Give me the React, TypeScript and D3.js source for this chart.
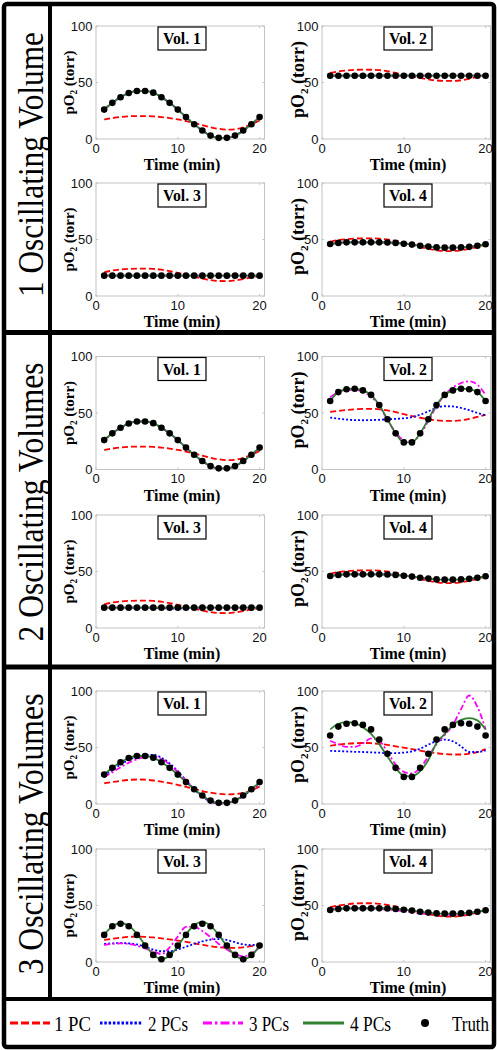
import React from "react";
import * as d3 from "d3";

// ---------- data ----------
const minutes = [1, 2, 3, 4, 5, 6, 7, 8, 9, 10, 11, 12, 13, 14, 15, 16, 17, 18, 19, 20];
const xTicks = [0, 10, 20];
const yTicks = [0, 50, 100];
const volTitles = ["Vol. 1", "Vol. 2", "Vol. 3", "Vol. 4"];
const sectionLabels = ["1 Oscillating Volume", "2 Oscillating Volumes", "3 Oscillating Volumes"];
const legendLabels = ["1 PC", "2 PCs", "3 PCs", "4 PCs", "Truth"];

// truth curves
const truthVol1 = [26, 32, 37, 40.7, 42.5, 42.5, 41, 37, 32, 26, 19.4, 13, 7.5, 3, 1, 1, 3, 7.5, 13, 19.4];
const truthVol2Flat = [56, 56, 56, 56, 56, 56, 56, 56, 56, 56, 56, 56, 56, 56, 56, 56, 56, 56, 56, 56];
const truthVol2Osc = [60.6, 68.5, 71, 71.5, 70, 66, 57, 44.5, 32, 24, 24, 32, 44.5, 57, 66, 70, 71.5, 71, 68.5, 60.6];
const truthVol3Flat = [18, 18, 18, 18, 18, 18, 18, 18, 18, 18, 18, 18, 18, 18, 18, 18, 18, 18, 18, 18];
const truthVol3Osc = [24, 31.6, 33.9, 31.6, 24, 14.5, 6.3, 2.5, 6.3, 14.5, 24, 31.6, 33.9, 31.6, 24, 14.5, 6.3, 2.5, 6.3, 14.5];
const truthVol4 = [46, 47, 47.5, 47.5, 47.5, 47.5, 47.5, 47.3, 47, 46.3, 45.5, 44.5, 43.7, 43, 42.8, 42.8, 43, 43.5, 44.5, 45.8];

// 1 PC reconstructions
const pc1Vol1 = [17.3, 18.5, 19.5, 20.1, 20.3, 20.3, 20, 19.4, 18.5, 17.3, 15.8, 14.2, 12.3, 10.4, 9, 8.3, 8.6, 10.2, 13, 16.4];
const pc1Vol2A = [58.5, 59.8, 60.6, 61.2, 61.4, 61.3, 61, 60, 58.5, 57, 55.5, 54, 52.8, 51.8, 51.4, 51.4, 52, 53.3, 55, 56.5];
const pc1Vol3A = [21, 22.5, 23.5, 24, 24.2, 24.2, 24, 23.3, 22, 20.5, 18.8, 17, 15.3, 14, 13.3, 13.2, 13.8, 15, 16.5, 17.5];
const pc1Vol4 = [48, 49.5, 50.3, 50.8, 51, 51, 50.7, 50, 48.8, 47.2, 45.5, 43.5, 41.8, 40.5, 39.8, 39.8, 40.5, 41.8, 43.5, 45.5];
const pc1Vol2B = [51, 51.8, 52.6, 53.2, 53.6, 53.7, 53.3, 52.3, 50.8, 49, 47.3, 45.8, 44.5, 43.5, 43, 43, 43.5, 44.8, 46.5, 48.5];
const pc1Vol1C = [18.3, 19.5, 20.5, 21.3, 21.7, 21.5, 20.8, 19.8, 18.5, 17, 15.2, 13.3, 11.5, 10, 9, 8.5, 8.7, 9.8, 12, 15.5];
const pc1Vol2C = [51.5, 52.5, 53.3, 53.8, 54, 53.8, 53.2, 52.3, 51, 49.8, 48.5, 47.2, 46, 45, 44.2, 43.8, 43.8, 44.5, 46, 48.5];
const pc1Vol3C = [19.5, 20.5, 21.5, 22.2, 22.5, 22.3, 21.8, 21, 20, 19, 17.8, 16.5, 15.2, 14, 13, 12.5, 12.5, 13, 14, 15.5];
const pc1Vol4C = [48.5, 50, 51, 51.8, 52, 52, 51.5, 50.5, 49, 47.3, 45.5, 43.8, 42.3, 41, 40.3, 40.2, 40.8, 42, 43.8, 46];

// 2 PCs reconstructions
const pc2Vol2B = [46, 45, 44.2, 43.7, 43.6, 43.7, 44, 44.4, 44.8, 45.3, 46.3, 48.5, 51.5, 54.5, 56, 55.8, 54.5, 52.5, 50, 48];
const pc2Vol3B = [18, 18, 18, 18, 18, 18, 17.8, 17.5, 17.2, 17.2, 17.5, 17.8, 18, 18, 18, 18, 18, 18, 18, 18];
const pc2Vol1C = [25, 30, 35, 39, 42, 43.5, 43.5, 41, 36, 29, 21, 13, 6.5, 2, 0.5, 1, 3, 7, 12.5, 18];
const pc2Vol2C = [47, 46.8, 46.5, 46.2, 46, 45.7, 45.4, 45, 45, 45.5, 46.5, 49, 52.5, 55.5, 57, 55.5, 51, 46, 46, 47.5];
const pc2Vol3C = [16, 16.5, 16.8, 16.5, 15.5, 13.5, 11, 9.5, 9.5, 11, 13.5, 16, 18.3, 19.8, 20.3, 19.5, 17.5, 15.5, 15, 16];

// 3 PCs reconstructions
const pc3Vol2B = [64, 68.5, 70.5, 70.5, 69, 64.5, 56, 44, 33, 26, 25, 31, 43, 56, 66, 72.5, 76.5, 78, 75, 66];
const pc3Vol1C = [24, 28, 32.5, 36.5, 39.5, 41.5, 42, 40, 35, 28.5, 21, 13.5, 7, 2.5, 0.5, 1, 3.5, 7.5, 13, 18];
const pc3Vol2C = [56, 53, 50.5, 50.5, 53.5, 58, 56, 46, 35, 28.5, 27, 32, 42, 53, 61, 70, 84, 96, 86, 66];
const pc3Vol3C = [15, 16, 16.5, 16, 14.5, 12, 9.5, 7, 13, 22.5, 31, 31, 27.5, 22, 16, 11, 7, 5, 7.5, 13];
const pc3Vol4C = [47, 47.3, 47.5, 47.5, 47.5, 47.2, 47, 46.5, 45.8, 45, 44, 43.2, 42.5, 42, 41.8, 42, 42.5, 43.3, 44.5, 46];

// 4 PCs reconstructions
const pc4Vol2C = [66, 71, 72.5, 71.5, 68, 62, 53, 42, 32, 25, 24.5, 29, 39, 54, 62, 70, 74.5, 76, 74, 66];
const pc4Vol3C = [24.5, 31.5, 34.5, 32, 25, 15, 6.5, 2.5, 5.5, 14, 24.5, 32.5, 35.5, 32, 24, 14, 6, 2.5, 5.5, 14.5];

type Series = { pc1: number[]; pc2: number[]; pc3: number[]; pc4: number[]; truth: number[] };

const sections: Series[][] = [
  [
    { pc1: pc1Vol1, pc2: truthVol1, pc3: truthVol1, pc4: truthVol1, truth: truthVol1 },
    { pc1: pc1Vol2A, pc2: truthVol2Flat, pc3: truthVol2Flat, pc4: truthVol2Flat, truth: truthVol2Flat },
    { pc1: pc1Vol3A, pc2: truthVol3Flat, pc3: truthVol3Flat, pc4: truthVol3Flat, truth: truthVol3Flat },
    { pc1: pc1Vol4, pc2: truthVol4, pc3: truthVol4, pc4: truthVol4, truth: truthVol4 },
  ],
  [
    { pc1: pc1Vol1, pc2: truthVol1, pc3: truthVol1, pc4: truthVol1, truth: truthVol1 },
    { pc1: pc1Vol2B, pc2: pc2Vol2B, pc3: pc3Vol2B, pc4: truthVol2Osc, truth: truthVol2Osc },
    { pc1: pc1Vol3A, pc2: pc2Vol3B, pc3: truthVol3Flat, pc4: truthVol3Flat, truth: truthVol3Flat },
    { pc1: pc1Vol4, pc2: truthVol4, pc3: truthVol4, pc4: truthVol4, truth: truthVol4 },
  ],
  [
    { pc1: pc1Vol1C, pc2: pc2Vol1C, pc3: pc3Vol1C, pc4: truthVol1, truth: truthVol1 },
    { pc1: pc1Vol2C, pc2: pc2Vol2C, pc3: pc3Vol2C, pc4: pc4Vol2C, truth: truthVol2Osc },
    { pc1: pc1Vol3C, pc2: pc2Vol3C, pc3: pc3Vol3C, pc4: pc4Vol3C, truth: truthVol3Osc },
    { pc1: pc1Vol4C, pc2: truthVol4, pc3: pc3Vol4C, pc4: truthVol4, truth: truthVol4 },
  ],
];

// ---------- layout ----------
const W = 497;
const H = 1050;
const colX = [96, 322];
const rowTops = [26, 183, 356.5, 515, 691, 849];
const PLOT_W = 168.5;
const PLOT_H = 113;
const X_MAX = 20.6;
const sectionCenters = [164.5, 502, 834];
const sectionLengths = [265, 279, 281];

const SERIF = "'Liberation Serif', 'Times New Roman', serif";
const SANS = "'Liberation Sans', Arial, sans-serif";

const styles = {
  pc1: { stroke: "#ff0000", dash: "6,3" },
  pc2: { stroke: "#0000ff", dash: "2,2" },
  pc3: { stroke: "#ff00ff", dash: "6,2.5,2,2.5" },
  pc4: { stroke: "#318031", dash: undefined as string | undefined },
};

function Panel({ x0, top, data, title, col }: { x0: number; top: number; data: Series; title: string; col: number }) {
  const x = d3.scaleLinear().domain([0, X_MAX]).range([x0, x0 + PLOT_W]);
  const y = d3.scaleLinear().domain([0, 100]).range([top + PLOT_H, top]);
  const line = d3
    .line<number>()
    .x((_, i) => x(minutes[i]))
    .y((d) => y(d))
    .curve(d3.curveMonotoneX);
  const bottom = top + PLOT_H;
  const cx = x0 + 86;
  const keys: ("pc1" | "pc2" | "pc3" | "pc4")[] = ["pc1", "pc2", "pc3", "pc4"];
  const ylFont = col === 0 ? 15 : 18;
  const ylX = col === 0 ? x0 - 22 : x0 - 18;
  const ylY = col === 0 ? top + PLOT_H / 2 : top + PLOT_H / 2 - 3;
  return (
    <g>
      <rect x={x0} y={top} width={PLOT_W} height={PLOT_H} fill="white" stroke="#c4c4c4" strokeWidth={1} />
      {xTicks.map((t) => (
        <g key={"xt" + t}>
          <line x1={x(t)} x2={x(t)} y1={bottom} y2={bottom - 2} stroke="#c4c4c4" />
          <line x1={x(t)} x2={x(t)} y1={top} y2={top + 2} stroke="#c4c4c4" />
          <text x={x(t)} y={bottom + 13.5} fontFamily={SANS} fontSize={13} textAnchor="middle" fill="#111">
            {t}
          </text>
        </g>
      ))}
      {yTicks.map((t) => (
        <g key={"yt" + t}>
          <line x1={x0} x2={x0 + 2} y1={y(t)} y2={y(t)} stroke="#c4c4c4" />
          <line x1={x0 + PLOT_W} x2={x0 + PLOT_W - 2} y1={y(t)} y2={y(t)} stroke="#c4c4c4" />
          <text x={x0 - 3.5} y={y(t) + 4.5} fontFamily={SANS} fontSize={13} textAnchor="end" fill="#111">
            {t}
          </text>
        </g>
      ))}
      {keys.map((k) => (
        <path
          key={k}
          d={line(data[k]) || ""}
          fill="none"
          stroke={styles[k].stroke}
          strokeWidth={1.8}
          strokeDasharray={styles[k].dash}
        />
      ))}
      {data.truth.map((v, i) => (
        <circle key={"d" + i} cx={x(minutes[i])} cy={y(v)} r={3.3} fill="#000" />
      ))}
      <rect x={cx - 24} y={top + 1} width={48} height={23} fill="white" stroke="#000" strokeWidth={1.2} />
      <text
        x={cx}
        y={top + 18}
        fontFamily={SERIF}
        fontWeight="bold"
        fontSize={16}
        textAnchor="middle"
        textLength={38}
        lengthAdjust="spacingAndGlyphs"
      >
        {title}
      </text>
      <text x={cx} y={bottom + 31} fontFamily={SERIF} fontWeight="bold" fontSize={16} textAnchor="middle">
        Time (min)
      </text>
      <text
        transform={`translate(${ylX},${ylY}) rotate(-90)`}
        fontFamily={SERIF}
        fontWeight="bold"
        fontSize={ylFont}
        textAnchor="middle"
      >
        pO
        <tspan fontSize={ylFont * 0.62} dy={ylFont * 0.2}>
          2
        </tspan>
        <tspan dy={-ylFont * 0.2}> (torr)</tspan>
      </text>
    </g>
  );
}

function Legend() {
  const ly = 1023;
  const items = [
    { x1: 10, x2: 50, tx: 54, tl: 37, style: styles.pc1 },
    { x1: 100, x2: 142, tx: 148, tl: 40, style: styles.pc2 },
    { x1: 203, x2: 243, tx: 249, tl: 40, style: styles.pc3 },
    { x1: 303, x2: 344, tx: 350, tl: 41, style: styles.pc4 },
  ];
  return (
    <g>
      {items.map((it, i) => (
        <g key={i}>
          <line
            x1={it.x1}
            x2={it.x2}
            y1={ly}
            y2={ly}
            stroke={it.style.stroke}
            strokeWidth={3}
            strokeDasharray={
              i === 0 ? "8,3" : i === 1 ? "2.5,1.8" : i === 2 ? "9,3,2.5,3" : undefined
            }
          />
          <text
            x={it.tx}
            y={ly + 8}
            fontFamily={SERIF}
            fontSize={20}
            textLength={it.tl}
            lengthAdjust="spacingAndGlyphs"
          >
            {legendLabels[i]}
          </text>
        </g>
      ))}
      <circle cx={425} cy={ly} r={4} fill="#000" />
      <text x={452} y={ly + 8} fontFamily={SERIF} fontSize={20} textLength={37} lengthAdjust="spacingAndGlyphs">
        {legendLabels[4]}
      </text>
    </g>
  );
}

export default function App() {
  return (
    <svg
      width={W}
      height={H}
      viewBox={`0 0 ${W} ${H}`}
      style={{ position: "absolute", left: 0, top: 0, display: "block", background: "white" }}
    >
      <rect x={0} y={0} width={W} height={H} fill="white" />
      {sections.map((panels, s) =>
        panels.map((p, i) => (
          <Panel
            key={`${s}-${i}`}
            x0={colX[i % 2]}
            top={rowTops[s * 2 + Math.floor(i / 2)]}
            data={p}
            title={volTitles[i]}
            col={i % 2}
          />
        ))
      )}
      {sectionLabels.map((lbl, s) => (
        <text
          key={lbl}
          transform={`translate(43,${sectionCenters[s]}) rotate(-90)`}
          fontFamily={SERIF}
          fontSize={36}
          textAnchor="middle"
          textLength={sectionLengths[s]}
          lengthAdjust="spacingAndGlyphs"
        >
          {lbl}
        </text>
      ))}
      <Legend />
      {/* frame */}
      <line x1={50} x2={50} y1={4} y2={999} stroke="#000" strokeWidth={4} />
      <line x1={4} x2={494} y1={332.5} y2={332.5} stroke="#000" strokeWidth={5} />
      <line x1={4} x2={494} y1={667} y2={667} stroke="#000" strokeWidth={5} />
      <line x1={4} x2={494} y1={999} y2={999} stroke="#000" strokeWidth={4} />
      <rect x={4} y={4} width={490} height={1043} fill="none" stroke="#000" strokeWidth={4.5} rx={3} />
    </svg>
  );
}
